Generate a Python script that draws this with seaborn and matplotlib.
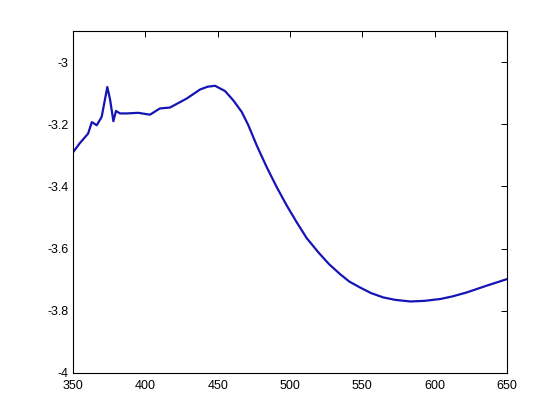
import matplotlib
matplotlib.use("Agg")
import matplotlib.pyplot as plt
import seaborn as sns
import pandas as pd

# Values
wavelength = [350, 354.8, 360.4, 363, 366.4, 369.8, 373.7, 375.6, 377.9, 379.7,
              382.5, 387, 395, 403.2, 410, 417, 428.6, 437.8, 443, 448.2,
              455.1, 460.8, 466.6, 471.2, 477, 483.9, 490.8, 497.7, 504.6, 511.5,
              519.6, 527, 534.6, 541, 548.4, 556, 564.5, 573, 583.2, 593,
              603.9, 612, 622.1, 636, 650]
signal = [-3.29, -3.26, -3.23, -3.193, -3.203, -3.176, -3.08, -3.12, -3.19, -3.157,
          -3.165, -3.165, -3.163, -3.169, -3.149, -3.146, -3.117, -3.088, -3.079, -3.076,
          -3.093, -3.123, -3.16, -3.203, -3.268, -3.338, -3.402, -3.461, -3.515, -3.566,
          -3.612, -3.650, -3.682, -3.706, -3.725, -3.743, -3.757, -3.765, -3.77, -3.768,
          -3.762, -3.754, -3.741, -3.719, -3.698]

df = pd.DataFrame({"wavelength": wavelength, "signal": signal})

sns.set_style("white")
plt.rcParams['font.family'] = ['Liberation Sans', 'DejaVu Sans']

fig = plt.figure(figsize=(5.6, 4.2), dpi=100)
ax = fig.add_axes([0.1304, 0.112, 0.775, 0.814])
sns.lineplot(data=df, x="wavelength", y="signal", color="#1515b5", linewidth=1.6, ax=ax)

ax.set_xlim(350, 650)
ax.set_ylim(-4, -2.9)
ax.set_xticks([350, 400, 450, 500, 550, 600, 650])
ax.set_yticks([-4, -3.8, -3.6, -3.4, -3.2, -3])
ax.set_yticklabels(["-4", "-3.8", "-3.6", "-3.4", "-3.2", "-3"])
ax.set_xlabel("")
ax.set_ylabel("")
ax.tick_params(direction="in", length=4, width=0.7, top=True, right=True,
               labelsize=9, colors="black")
ax.tick_params(axis="x", pad=5)
ax.tick_params(axis="y", pad=3)
for s in ax.spines.values():
    s.set_visible(True)
    s.set_color("black")
    s.set_linewidth(0.8)

fig.savefig("out.png", dpi=100)
